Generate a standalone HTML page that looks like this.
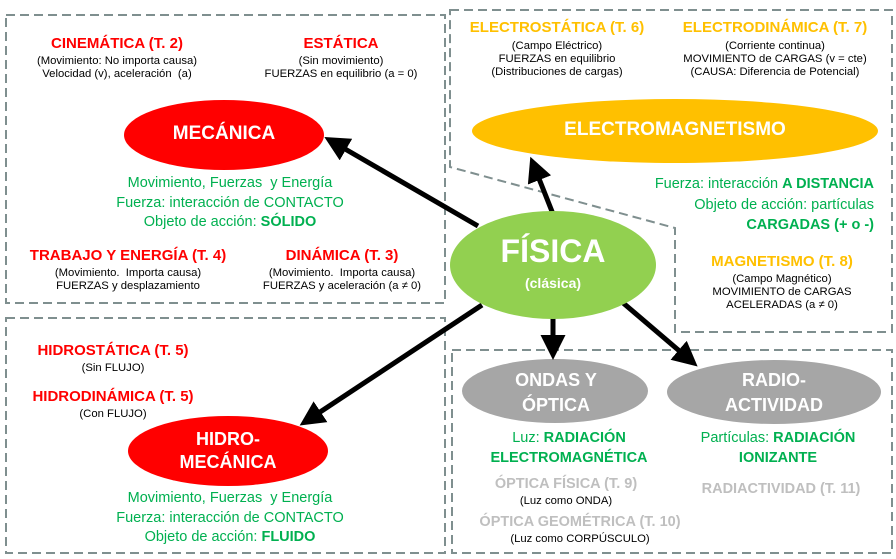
<!DOCTYPE html>
<html><head><meta charset="utf-8"><style>
body{margin:0;width:896px;height:559px;background:#fff;position:relative;overflow:hidden;font-family:"Liberation Sans",Arial,sans-serif}
.t{position:absolute;text-align:center;white-space:nowrap;transform:translateX(-50%)}
.h{font-weight:bold;font-size:15px;color:#ff0000}
.o{font-weight:bold;font-size:15px;color:#ffc000}
.s{font-size:11.3px;color:#000;line-height:13px}
.g{font-size:14.5px;color:#00b050;line-height:19.5px}
.gr{font-weight:bold;font-size:14.5px;color:#bfbfbf}
.e{font-weight:bold;color:#fff}
b{font-weight:bold}
</style></head><body>
<svg width="896" height="559" style="position:absolute;left:0;top:0">
<defs><marker id="a" markerWidth="5" markerHeight="5" refX="3" refY="2.5" orient="auto"><path d="M0,0 L5,2.5 L0,5 z" fill="#000"/></marker></defs>
<g fill="none" stroke="#7f8f8f" stroke-width="2" stroke-dasharray="9,5">
<rect x="6" y="15" width="439" height="288"/>
<rect x="6" y="318" width="439" height="235"/>
<rect x="452" y="350" width="440" height="203"/>
<path d="M450,10 L892,10 L892,332 L675,332 L675,228 L450,167 Z"/>
</g>
<ellipse cx="224" cy="135" rx="100" ry="35" fill="#ff0000"/>
<ellipse cx="675" cy="131" rx="203" ry="32" fill="#ffc000"/>
<ellipse cx="228" cy="451" rx="100" ry="35" fill="#ff0000"/>
<ellipse cx="555" cy="391" rx="93" ry="32" fill="#a6a6a6"/>
<ellipse cx="774" cy="392" rx="107" ry="32" fill="#a6a6a6"/>
<g stroke="#000" stroke-width="5" marker-end="url(#a)">
<line x1="478" y1="226" x2="333" y2="142"/>
<line x1="553" y1="214" x2="534" y2="166"/>
<line x1="482" y1="305" x2="308" y2="420"/>
<line x1="553" y1="316" x2="553" y2="350"/>
<line x1="622" y1="302" x2="690" y2="360"/>
</g>
<ellipse cx="553" cy="265" rx="103" ry="54" fill="#92d050"/>
</svg>

<div class="t h" style="left:117px;top:35px">CINEMÁTICA (T. 2)</div>
<div class="t s" style="left:117px;top:55px">(Movimiento: No importa causa)<br>Velocidad (v), aceleración &nbsp;(a)</div>
<div class="t h" style="left:341px;top:35px">ESTÁTICA</div>
<div class="t s" style="left:341px;top:55px">(Sin movimiento)<br>FUERZAS en equilibrio (a = 0)</div>
<div class="t e" style="left:224px;top:123px;font-size:19px">MECÁNICA</div>
<div class="t g" style="left:230px;top:174px">Movimiento, Fuerzas &nbsp;y Energía<br>Fuerza: interacción de CONTACTO<br>Objeto de acción: <b>SÓLIDO</b></div>
<div class="t h" style="left:128px;top:247px">TRABAJO Y ENERGÍA (T. 4)</div>
<div class="t s" style="left:128px;top:267px">(Movimiento. &nbsp;Importa causa)<br>FUERZAS y desplazamiento</div>
<div class="t h" style="left:342px;top:247px">DINÁMICA (T. 3)</div>
<div class="t s" style="left:342px;top:267px">(Movimiento. &nbsp;Importa causa)<br>FUERZAS y aceleración (a ≠ 0)</div>

<div class="t o" style="left:557px;top:19px">ELECTROSTÁTICA (T. 6)</div>
<div class="t s" style="left:557px;top:40px">(Campo Eléctrico)<br>FUERZAS en equilibrio<br>(Distribuciones de cargas)</div>
<div class="t o" style="left:775px;top:19px">ELECTRODINÁMICA (T. 7)</div>
<div class="t s" style="left:775px;top:40px">(Corriente continua)<br>MOVIMIENTO de CARGAS (v = cte)<br>(CAUSA: Diferencia de Potencial)</div>
<div class="t e" style="left:675px;top:119px;font-size:19px">ELECTROMAGNETISMO</div>
<div style="position:absolute;right:22px;top:174px;text-align:right;white-space:nowrap;font-size:14.5px;color:#00b050;line-height:20.5px">Fuerza: interacción <b>A DISTANCIA</b><br>Objeto de acción: partículas<br><b>CARGADAS (+ o -)</b></div>
<div class="t o" style="left:782px;top:253px">MAGNETISMO (T. 8)</div>
<div class="t s" style="left:782px;top:273px">(Campo Magnético)<br>MOVIMIENTO de CARGAS<br>ACELERADAS (a ≠ 0)</div>
<div class="t e" style="left:553px;top:233px;font-size:32px">FÍSICA</div>
<div class="t e" style="left:553px;top:275px;font-size:14px">(clásica)</div>

<div class="t h" style="left:113px;top:342px">HIDROSTÁTICA (T. 5)</div>
<div class="t s" style="left:113px;top:362px">(Sin FLUJO)</div>
<div class="t h" style="left:113px;top:388px">HIDRODINÁMICA (T. 5)</div>
<div class="t s" style="left:113px;top:408px">(Con FLUJO)</div>
<div class="t e" style="left:228px;top:428px;font-size:18px;line-height:23px">HIDRO-<br>MECÁNICA</div>
<div class="t g" style="left:230px;top:489px">Movimiento, Fuerzas &nbsp;y Energía<br>Fuerza: interacción de CONTACTO<br>Objeto de acción: <b>FLUIDO</b></div>

<div class="t e" style="left:556px;top:368px;font-size:18px;line-height:25px">ONDAS Y<br>ÓPTICA</div>
<div class="t e" style="left:774px;top:368px;font-size:18px;line-height:25px">RADIO-<br>ACTIVIDAD</div>
<div class="t g" style="left:569px;top:429px">Luz: <b>RADIACIÓN<br>ELECTROMAGNÉTICA</b></div>
<div class="t g" style="left:778px;top:429px">Partículas: <b>RADIACIÓN<br>IONIZANTE</b></div>
<div class="t gr" style="left:566px;top:476px">ÓPTICA FÍSICA (T. 9)</div>
<div class="t s" style="left:566px;top:495px">(Luz como ONDA)</div>
<div class="t gr" style="left:580px;top:514px">ÓPTICA GEOMÉTRICA (T. 10)</div>
<div class="t s" style="left:580px;top:533px">(Luz como CORPÚSCULO)</div>
<div class="t gr" style="left:781px;top:481px">RADIACTIVIDAD (T. 11)</div>
</body></html>
